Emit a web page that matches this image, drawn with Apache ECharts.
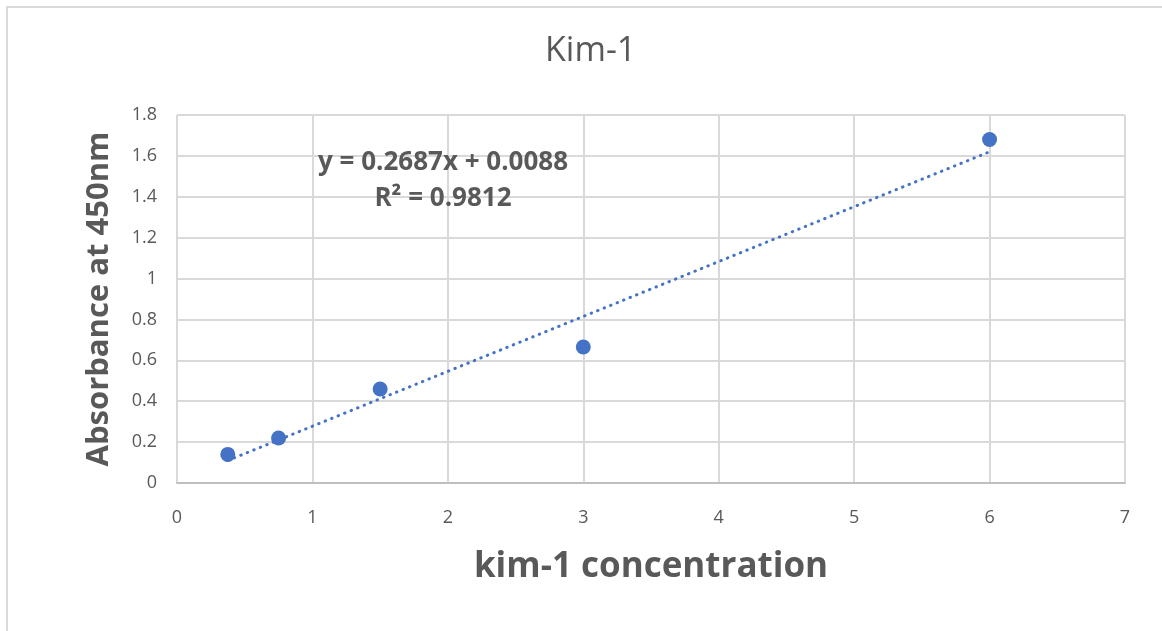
<!DOCTYPE html>
<html>
<head>
<meta charset="utf-8">
<script src="https://cdn.jsdelivr.net/npm/echarts@6/dist/echarts.min.js"></script>
<style>
html,body{margin:0;padding:0;background:#fff;}
#chart{width:1162px;height:631px;}
</style>
</head>
<body>
<div id="chart"></div>
<script>
// Data
var concentrations = [0.375, 0.75, 1.5, 3, 6];
var absorbances = [0.14, 0.22, 0.46, 0.665, 1.68];
// Trendline endpoints
var trendX = [0.375, 6];
var trendY = [0.11, 1.62];
var xTicks = [0, 1, 2, 3, 4, 5, 6, 7];
var yTicks = [0, 0.2, 0.4, 0.6, 0.8, 1, 1.2, 1.4, 1.6, 1.8];
var titleText = 'Kim-1';
var xName = 'kim-1 concentration';
var yName = 'Absorbance at 450nm';
var equationLines = ['y = 0.2687x + 0.0088', 'R\u00B2 = 0.9812'];

var pointData = concentrations.map(function (x, i) { return [x, absorbances[i]]; });
var trendData = trendX.map(function (x, i) { return [x, trendY[i]]; });

var FONT = '"Open Sans", "Liberation Sans", sans-serif';
var TXT = '#595959';
var BLUE = '#4472C4';
var GRID = '#d9d9d9';

var chart = echarts.init(document.getElementById('chart'), null, {renderer: 'canvas'});
chart.setOption({
  backgroundColor: '#ffffff',
  animation: false,
  title: {
    text: titleText,
    left: 540,
    top: 29,
    textStyle: {fontFamily: FONT, fontSize: 34, fontWeight: 'normal', color: TXT}
  },
  grid: {left: 177, right: 37, top: 115, bottom: 148, containLabel: false},
  xAxis: {
    type: 'value',
    min: xTicks[0],
    max: xTicks[xTicks.length - 1],
    interval: 1,
    name: xName,
    nameLocation: 'middle',
    nameGap: 67,
    nameTextStyle: {fontFamily: FONT, fontSize: 35, fontWeight: 'bold', color: TXT},
    axisLine: {show: true, lineStyle: {color: '#bfbfbf', width: 2}},
    axisTick: {show: false},
    axisLabel: {fontFamily: FONT, fontSize: 18, color: TXT, margin: 26},
    splitLine: {show: true, lineStyle: {color: GRID, width: 2}}
  },
  yAxis: {
    type: 'value',
    min: yTicks[0],
    max: yTicks[yTicks.length - 1],
    interval: 0.2,
    name: yName,
    nameLocation: 'middle',
    nameGap: 62,
    nameTextStyle: {fontFamily: FONT, fontSize: 31, fontWeight: 'bold', color: TXT},
    axisLine: {show: false},
    axisTick: {show: false},
    axisLabel: {
      fontFamily: FONT, fontSize: 18, color: TXT, margin: 20,
      formatter: function (v) { return String(Math.round(v * 10) / 10); }
    },
    splitLine: {show: true, lineStyle: {color: GRID, width: 2}}
  },
  series: [
    {
      type: 'line',
      data: trendData,
      showSymbol: false,
      symbol: 'none',
      silent: true,
      lineStyle: {color: BLUE, width: 3, type: [0.5, 6.5], cap: 'round'},
      z: 2
    },
    {
      type: 'scatter',
      data: pointData,
      symbol: 'circle',
      symbolSize: 15,
      itemStyle: {color: BLUE, opacity: 1},
      z: 3
    }
  ],
  graphic: [
    {
      type: 'rect',
      shape: {x: 7, y: 7, width: 1200, height: 700},
      style: {fill: 'none', stroke: GRID, lineWidth: 2},
      silent: true,
      z: 0
    },
    {
      type: 'text',
      x: 443,
      y: 163,
      style: {
        text: equationLines[0],
        fontFamily: FONT, fontSize: 26, fontWeight: 'bold', fill: TXT,
        align: 'center', verticalAlign: 'middle'
      },
      z: 10
    },
    {
      type: 'text',
      x: 443,
      y: 199,
      style: {
        text: equationLines[1],
        fontFamily: FONT, fontSize: 26, fontWeight: 'bold', fill: TXT,
        align: 'center', verticalAlign: 'middle'
      },
      z: 10
    }
  ]
});
</script>
</body>
</html>
